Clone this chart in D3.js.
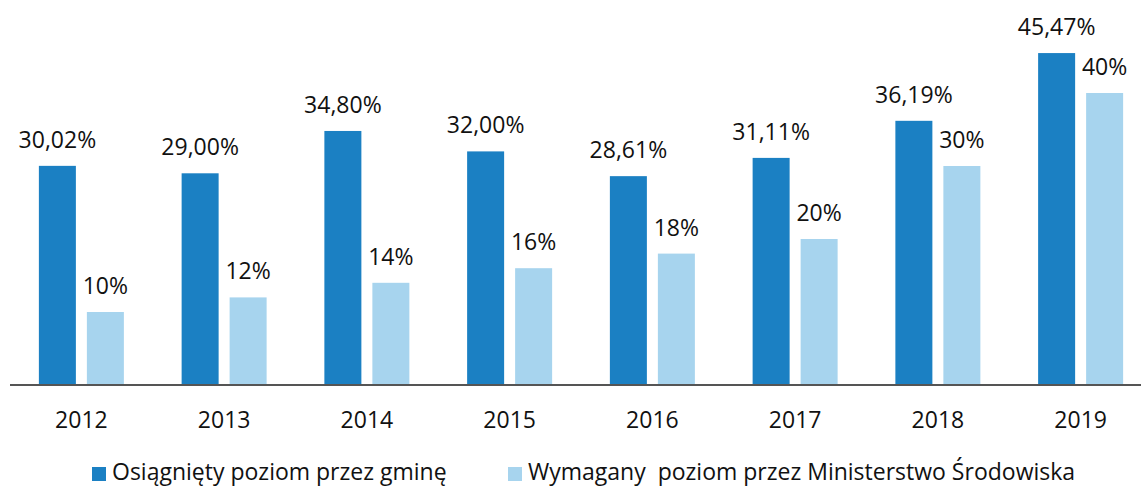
<!DOCTYPE html>
<html>
<head>
<meta charset="utf-8">
<script src="https://cdn.jsdelivr.net/npm/d3@7"></script>
<style>
  body { margin: 0; background: #fff; }
  svg text { font-family: "Open Sans", "Noto Sans", sans-serif; fill: #111; }
</style>
</head>
<body>
<div id="chart"></div>
<script>
// data
const years = ['2012', '2013', '2014', '2015', '2016', '2017', '2018', '2019']
const achieved = [30.02, 29.00, 34.80, 32.00, 28.61, 31.11, 36.19, 45.47]
const required = [10, 12, 14, 16, 18, 20, 30, 40]
const achievedLabels = ['30,02%', '29,00%', '34,80%', '32,00%', '28,61%', '31,11%', '36,19%', '45,47%']
const requiredLabels = ['10%', '12%', '14%', '16%', '18%', '20%', '30%', '40%']
const seriesNames = ['Osiągnięty poziom przez gminę', 'Wymagany  poziom przez Ministerstwo Środowiska']

const width = 1141
const height = 488
const colors = ['#1b80c3', '#a7d4ee']

const svg = d3.select('#chart')
    .append('svg')
    .attr('width', width)
    .attr('height', height)

// scales
const x0 = d3.scaleBand()
    .domain(years)
    .range([10, 1152])

const x1 = d3.scaleBand()
    .domain(['a', 'r'])
    .range([x0.bandwidth() / 2 - 42.5, x0.bandwidth() / 2 + 42.5])
    .paddingInner(0.229)

const y = d3.scaleLinear()
    .domain([0, 50])
    .range([385, 20])

const rows = years.map((yr, i) => ({
    year: yr,
    bars: [
        { key: 'a', value: achieved[i], label: achievedLabels[i], color: colors[0] },
        { key: 'r', value: required[i], label: requiredLabels[i], color: colors[1] }
    ]
}))

const groups = svg.selectAll('.group')
    .data(rows)
    .enter()
    .append('g')
    .attr('class', 'group')
    .attr('transform', d => 'translate(' + x0(d.year) + ',0)')

groups.selectAll('rect')
    .data(d => d.bars)
    .enter()
    .append('rect')
    .attr('x', d => x1(d.key))
    .attr('width', x1.bandwidth())
    .attr('y', d => y(d.value))
    .attr('height', d => y(0) - y(d.value))
    .attr('fill', d => d.color)

groups.selectAll('.val')
    .data(d => d.bars)
    .enter()
    .append('text')
    .attr('class', 'val')
    .attr('x', d => x1(d.key) + x1.bandwidth() / 2)
    .attr('y', d => y(d.value) - 18)
    .attr('text-anchor', 'middle')
    .style('font-size', '23px')
    .text(d => d.label)

// x axis: baseline and year labels
const xAxis = d3.axisBottom(x0).tickSize(0).tickPadding(27)
const axisG = svg.append('g')
    .attr('transform', 'translate(0,' + y(0) + ')')
    .call(xAxis)
axisG.select('.domain').remove()
axisG.selectAll('.tick text')
    .style('font-size', '23px')
    .style('font-family', '"Open Sans", sans-serif')
    .attr('fill', '#111')

svg.append('line')
    .attr('x1', 10)
    .attr('x2', width)
    .attr('y1', y(0))
    .attr('y2', y(0))
    .attr('stroke', '#555')
    .attr('stroke-width', 2)

// legend
const legendX = [92, 508]
const legend = svg.selectAll('.legend')
    .data(seriesNames)
    .enter()
    .append('g')
    .attr('class', 'legend')
    .attr('transform', (d, i) => 'translate(' + legendX[i] + ',467)')

legend.append('rect')
    .attr('width', 14)
    .attr('height', 14)
    .attr('fill', (d, i) => colors[i])

legend.append('text')
    .attr('x', 20)
    .attr('y', 13)
    .style('font-size', '23px')
    .style('white-space', 'pre')
    .text(d => d)
</script>
</body>
</html>
